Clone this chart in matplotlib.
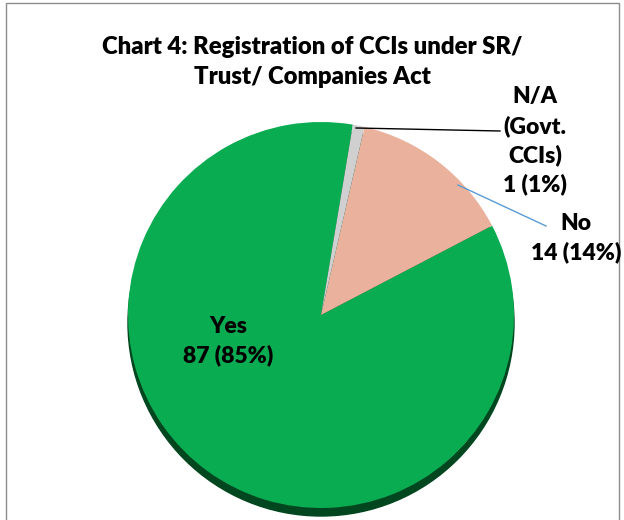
import matplotlib.pyplot as plt
from matplotlib.patches import Circle, Rectangle

labels = ['Yes', 'No', 'N/A']
counts = [87, 14, 1]
pcts = [85, 14, 1]
colors = ['#0AAC52', '#EAB29D', '#D0D0D0']

W, H = 624, 520
fig = plt.figure(figsize=(W / 100, H / 100), dpi=100)
ax = fig.add_axes([0, 0, 1, 1])

font = 'Lato'
cx, cy, r = 321, H - 315, 193

# 3d-ish depth under the pie
ax.add_patch(Circle((cx, cy - 8), r, color='#00461E', zorder=1))
ax.pie(counts, colors=colors, startangle=80.5, counterclock=True,
       center=(cx, cy), radius=r, frame=True,
       wedgeprops=dict(linewidth=0, zorder=2))
ax.set_xlim(0, W)
ax.set_ylim(0, H)
ax.set_aspect('equal')
ax.axis('off')

# border
ax.add_patch(Rectangle((6, -5), 613, H - 3 + 5, fill=False,
                       edgecolor='#8C8C8C', linewidth=1, zorder=5))

ax.text(312, H - 62, 'Chart 4: Registration of CCIs under SR/\nTrust/ Companies Act',
        ha='center', va='center', fontsize=17.2, fontweight='heavy',
        family=font, linespacing=1.5)

lab = {
    'Yes': (228, H - 341, 'Yes\n87 (85%)'),
    'No': (576, H - 238, 'No\n14 (14%)'),
    'N/A': (535, H - 141, 'N/A\n(Govt.\nCCIs)\n1 (1%)'),
}
for name in labels:
    x, y, t = lab[name]
    ax.text(x, y, t, ha='center', va='center', fontsize=16.5,
            fontweight='heavy', family=font, linespacing=1.42, zorder=6)

# leader lines
ax.plot([356, 500], [H - 128, H - 131], color='black', linewidth=1, zorder=6)
ax.plot([458, 546], [H - 185, H - 226], color='#5B9BD5', linewidth=1, zorder=6)

fig.savefig('out.png', dpi=100)
